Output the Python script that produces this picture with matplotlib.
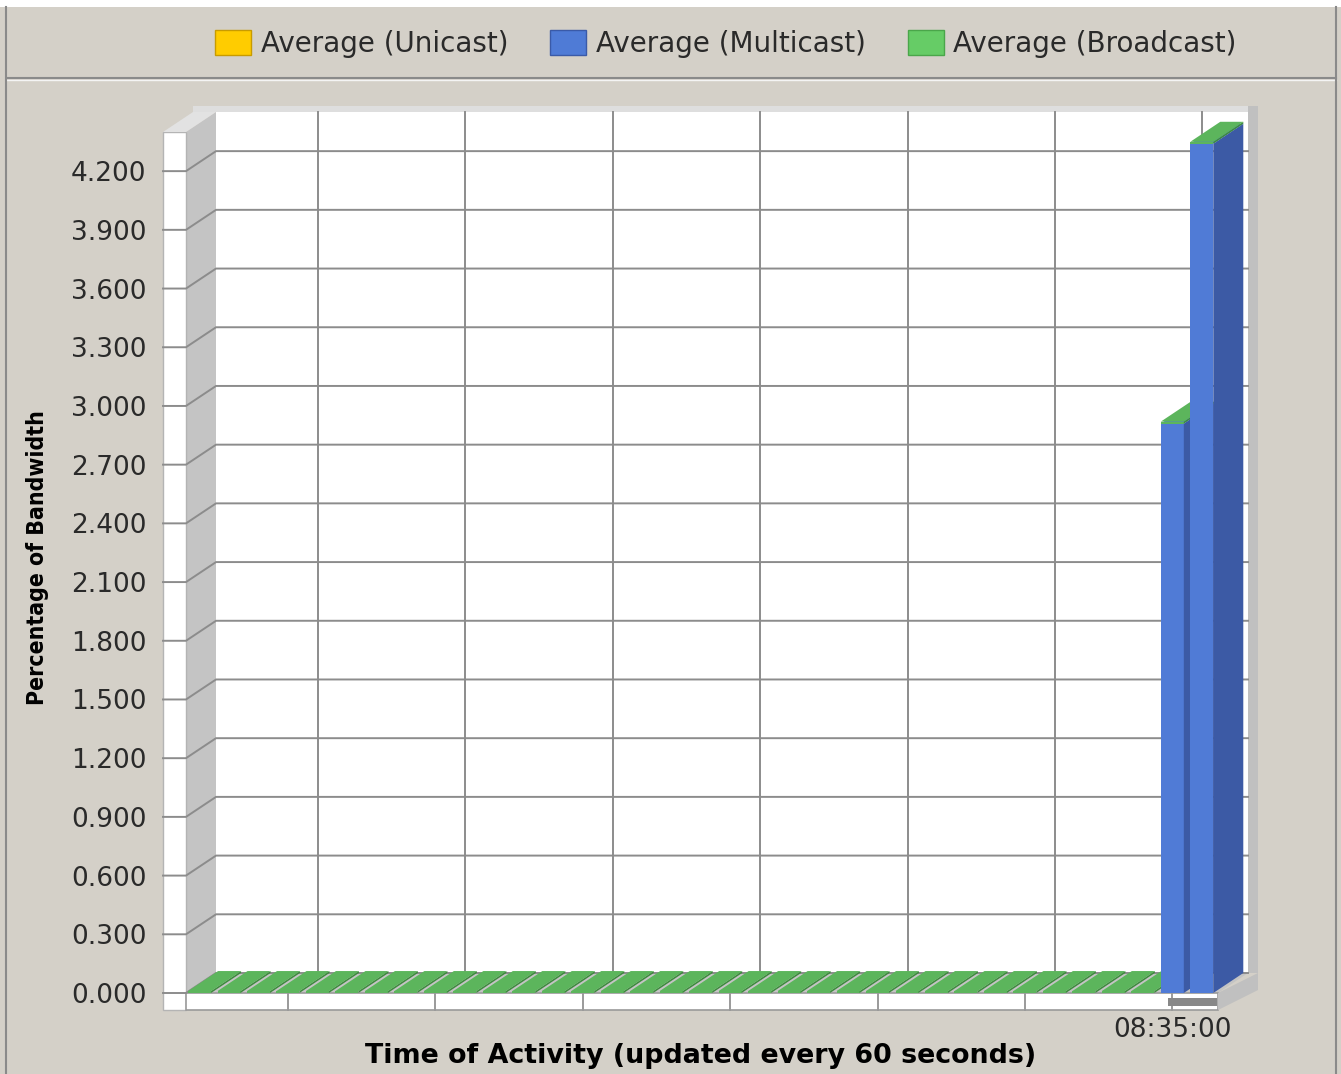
import matplotlib.pyplot as plt
from matplotlib import font_manager
from matplotlib.patches import Polygon, Rectangle, Patch
from matplotlib.lines import Line2D

# one sample per minute, minutes after 08:00
minutes = [2, 3, 4, 5, 6, 7, 8, 9, 10, 11, 12, 13, 14, 15, 16, 17, 18,
           19, 20, 21, 22, 23, 24, 25, 26, 27, 28, 29, 30, 31, 32, 33, 34,
           35, 36]
unicast = [0, 0, 0, 0, 0, 0, 0, 0, 0, 0, 0, 0, 0, 0, 0, 0, 0,
           0, 0, 0, 0, 0, 0, 0, 0, 0, 0, 0, 0, 0, 0, 0, 0,
           0, 0]
multicast = [0, 0, 0, 0, 0, 0, 0, 0, 0, 0, 0, 0, 0, 0, 0, 0, 0,
             0, 0, 0, 0, 0, 0, 0, 0, 0, 0, 0, 0, 0, 0, 0, 0,
             2.91, 4.34]
broadcast = [0.01, 0.01, 0.01, 0.01, 0.01, 0.01, 0.01, 0.01, 0.01, 0.01,
             0.01, 0.01, 0.01, 0.01, 0.01, 0.01, 0.01, 0.01, 0.01, 0.01,
             0.01, 0.01, 0.01, 0.01, 0.01, 0.01, 0.01, 0.01, 0.01, 0.01,
             0.01, 0.01, 0.01, 0.01, 0.01]

series_names = ['Average (Unicast)', 'Average (Multicast)', 'Average (Broadcast)']
value_ticks = [0.0, 0.3, 0.6, 0.9, 1.2, 1.5, 1.8, 2.1, 2.4, 2.7, 3.0, 3.3, 3.6, 3.9, 4.2]
grid_minutes = [5, 10, 15, 20, 25, 30, 35]
time_ticks = [35]
time_labels = ['08:35:00']

# face colours: front, side, top
FACES = {
    'unicast': ('#ffcc00', '#c9a000', '#ffcc00'),
    'multicast': ('#507bd6', '#3c5aa5', '#507bd6'),
    'broadcast': ('#5cb55c', '#3f8a3f', '#5cb55c'),
}
LEGEND_FILL = ['#ffcc00', '#4f7bd6', '#66cc66']
LEGEND_EDGE = ['#c89b00', '#3a5aa8', '#4aa64a']

BG = '#d4d0c8'
GRID = '#8c8c8c'
TXT = '#2a2a2a'

W, H = 1341, 1074
fig = plt.figure(figsize=(W / 100, H / 100), dpi=100, facecolor=BG)

# front face of the data area, in pixels
AX_L, AX_R, AX_B, AX_T = 186, 1218, 993, 132
XMIN, XMAX = 1.54, 36.55
YMAX = 4.40
ax = fig.add_axes([AX_L / W, 1 - AX_B / H, (AX_R - AX_L) / W, (AX_B - AX_T) / H])
ax.set_xlim(XMIN, XMAX)
ax.set_ylim(0, YMAX)
ax.patch.set_visible(False)
for sp in ax.spines.values():
    sp.set_visible(False)

px_x = (AX_R - AX_L) / (XMAX - XMIN)
px_y = (AX_B - AX_T) / YMAX
DX, DY = 30 / px_x, 20 / px_y       # depth offset
SX, SY = 23 / px_x, 17 / px_y       # front axis strips
EDGE = 10 / px_x                    # right rim
BAR_W = 23 / px_x

kw = dict(clip_on=False, lw=0)

# back wall with its rim
ax.add_patch(Rectangle((XMIN + DX, DY), XMAX - XMIN, YMAX, fc='white', zorder=1, **kw))
ax.add_patch(Rectangle((XMIN - SX + DX, YMAX + DY), XMAX - XMIN + SX + EDGE, 6 / px_y,
                       fc='#dedede', zorder=1, **kw))
ax.add_patch(Rectangle((XMAX + DX, DY), EDGE, YMAX + 6 / px_y,
                       fc='#c0c0c0', zorder=1, **kw))
# left wall and floor
ax.add_patch(Polygon([(XMIN, 0), (XMIN, YMAX), (XMIN + DX, YMAX + DY), (XMIN + DX, DY)],
                     fc='#c4c4c4', zorder=1, **kw))
ax.add_patch(Polygon([(XMIN, 0), (XMAX, 0), (XMAX + DX, DY), (XMIN + DX, DY)],
                     fc='#c4c4c4', zorder=1, **kw))

# front strips of the two axes
ax.add_patch(Rectangle((XMIN - SX, -SY), SX, YMAX + SY, fc='white', ec='#b4b4b4',
                       lw=1, clip_on=False, zorder=2))
ax.add_patch(Polygon([(XMIN - SX, YMAX), (XMIN, YMAX), (XMIN + DX, YMAX + DY),
                      (XMIN - SX + DX, YMAX + DY)], fc='#e2e2e2', zorder=2, **kw))
ax.add_patch(Rectangle((XMIN, -SY), XMAX - XMIN, SY, fc='white', ec='#9a9a9a',
                       lw=1.2, clip_on=False, zorder=2))
ax.add_patch(Polygon([(XMAX, 0), (XMAX, -SY), (XMAX + DX + EDGE, -SY + DY),
                      (XMAX + DX + EDGE, DY)], fc='#c0c0c0', zorder=2, **kw))

# value gridlines: across the front strip, up the left wall, along the back
for v in value_ticks:
    ax.plot([XMIN - SX, XMIN, XMIN + DX, XMAX + DX], [v, v, v + DY, v + DY],
            color=GRID, lw=1.4, clip_on=False, zorder=3)

# time gridlines on the back wall, dividers on the front strip
for m in grid_minutes:
    ax.plot([m + DX, m + DX], [DY, YMAX + DY], color=GRID, lw=1.4, clip_on=False, zorder=3)
    ax.plot([m, m], [0, -SY], color='#9a9a9a', lw=1.4, clip_on=False, zorder=3)

# marker for the latest interval on the time strip
ax.add_patch(Rectangle((34.85, -13 / px_y), 1.66, 8 / px_y, fc='#888888', zorder=3, **kw))


def block(left, bottom, top, faces):
    front, side, topc = faces
    right = left + BAR_W
    ax.add_patch(Rectangle((left, bottom), BAR_W, top - bottom, fc=front, zorder=4, **kw))
    ax.add_patch(Polygon([(right, bottom), (right, top), (right + DX, top + DY),
                          (right + DX, bottom + DY)], fc=side, zorder=4, **kw))
    ax.add_patch(Polygon([(left, top), (right, top), (right + DX, top + DY),
                          (left + DX, top + DY)], fc=topc, zorder=4, **kw))


# stacked 3D bars, left to right so later bars hide earlier sides
for i, m in enumerate(minutes):
    base = 0.0
    for key, vals in (('unicast', unicast), ('multicast', multicast), ('broadcast', broadcast)):
        v = vals[i]
        if v <= 0:
            continue
        block(m - BAR_W / 2, base, base + v, FACES[key])
        base += v

# tick labels
ax.set_yticks(value_ticks)
ax.set_yticklabels(['%.3f' % v for v in value_ticks])
ax.set_xticks(time_ticks)
ax.set_xticklabels(time_labels)
ax.tick_params(axis='y', length=0, pad=28.5, labelsize=19, labelcolor=TXT)
ax.tick_params(axis='x', length=0, pad=17, labelsize=19, labelcolor=TXT)

# axis titles
names = {f.name for f in font_manager.fontManager.ttflist}
if 'Liberation Sans Narrow' in names:
    ylab_font = dict(family='Liberation Sans Narrow', fontsize=20)
else:
    ylab_font = dict(family='DejaVu Sans', stretch='condensed', fontsize=16.5)
fig.text(38 / W, 1 - 558 / H, 'Percentage of Bandwidth', rotation=90, ha='center',
         va='center', fontweight='bold', color='black', **ylab_font)
fig.text(701 / W, 1 - 1056 / H, 'Time of Activity (updated every 60 seconds)',
         ha='center', va='center', fontsize=19.4, fontweight='bold', color='black')

# legend
handles = [Patch(fc=f, ec=e, lw=1) for f, e in zip(LEGEND_FILL, LEGEND_EDGE)]
fig.legend(handles, series_names, loc='center', bbox_to_anchor=(726 / W, 1 - 44 / H),
           ncol=3, frameon=False, fontsize=20, labelcolor=TXT, handlelength=1.3,
           handleheight=1.0, handletextpad=0.35, columnspacing=1.5, borderpad=0)

# panel frame
fig.add_artist(Rectangle((0, 1 - 7 / H), 1, 7 / H, transform=fig.transFigure,
                         fc='white', lw=0))
fig.add_artist(Line2D([7 / W, 1336 / W], [1 - 78 / H, 1 - 78 / H], transform=fig.transFigure,
                      color='#8a8a8a', lw=1.5))
fig.add_artist(Line2D([7 / W, 1336 / W], [1 - 80 / H, 1 - 80 / H], transform=fig.transFigure,
                      color='#f4f4f4', lw=1))
for xp in (6, 1336):
    fig.add_artist(Line2D([xp / W, xp / W], [0, 1 - 7 / H], transform=fig.transFigure,
                          color='#8a8a8a', lw=1.5))

fig.savefig('out.png', dpi=100, facecolor=BG)
